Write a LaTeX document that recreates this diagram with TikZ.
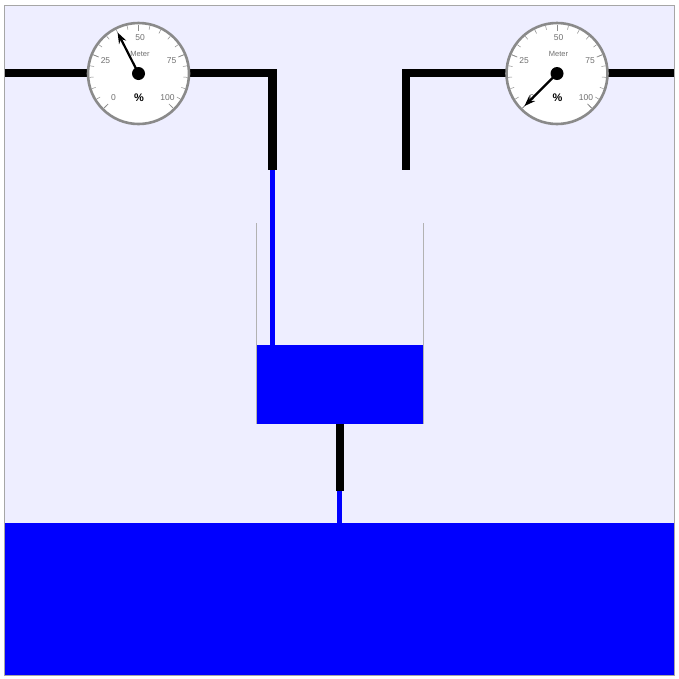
\documentclass[tikz,border=0pt]{standalone}
\usepackage{fontspec}
\setmainfont{Liberation Sans}
\usetikzlibrary{arrows.meta}

\definecolor{panel}{HTML}{EEEEFF}
\definecolor{water}{HTML}{0000FF}
\definecolor{rim}{HTML}{8A8A8A}
\definecolor{scaletext}{HTML}{707070}

\tikzset{
  pipe/.style={line width=8.5pt, black, line join=miter},
  stream/.style={line width=5.5pt, water},
  wall/.style={line width=1pt, black!30},
  dial/.style={circle, draw=rim, line width=2.6pt, fill=white, minimum size=101pt, inner sep=0pt},
  tick/.style={line width=0.5pt, black!45},
  needle/.style={line width=2.2pt, black, -{Stealth[length=11pt,width=8pt]}},
  hub/.style={circle, fill=black, minimum size=13pt, inner sep=0pt},
  scalelabel/.style={text=scaletext, font=\fontsize{8.5}{9}\selectfont, inner sep=0pt},
  % gauge with a 270 degree scale: 0 at 225 deg, 100 at -45 deg; #1 is the reading
  gauge/.pic={
    \node[dial] (-face) at (0,0) {};
    \foreach \v in {0,5,...,100}{
      \draw[tick] ({225-2.7*\v}:45pt) -- ({225-2.7*\v}:49pt);
    }
    \foreach \v in {0,25,...,100}{
      \draw[tick, line width=0.7pt] ({225-2.7*\v}:43pt) -- ({225-2.7*\v}:49pt);
    }
    \node[scalelabel] at (-25,24.5) {0};
    \node[scalelabel] at (-33,-13) {25};
    \node[scalelabel] at (1.5,-36) {50};
    \node[scalelabel] at (33,-13) {75};
    \node[scalelabel] at (29,24.5) {100};
    \node[text=scaletext, font=\fontsize{7.5}{8}\selectfont, inner sep=0pt] at (1.5,-19.5) {Meter};
    \node[font=\bfseries\fontsize{11}{12}\selectfont, inner sep=0pt] at (0.5,24) {\%};
    \coordinate (-tip) at ({225-2.7*#1}:46pt);
    \draw[needle] (0,0) -- (-tip);
    \node[hub] (-hub) at (0,0) {};
  }
}

\begin{document}
\begin{tikzpicture}[x=1pt,y=-1pt]
  \useasboundingbox (0,0) rectangle (679,678);
  \fill[white] (0,0) rectangle (679,678);

  % panel and the water basin at the bottom
  \filldraw[fill=panel, draw=black!35, line width=0.8pt] (4.5,5.5) rectangle (674,675);
  \fill[water] (4.5,523) rectangle (674,675);

  % supply pipes
  \coordinate (inL) at (4.5,73);
  \coordinate (bendL) at (272.5,73);
  \coordinate (outL) at (272.5,170);
  \coordinate (inR) at (674,73);
  \coordinate (bendR) at (406,73);
  \coordinate (outR) at (406,170);
  \draw[pipe] (inL) -- (bendL) -- (outL);
  \draw[pipe] (inR) -- (bendR) -- (outR);

  % tank with its water
  \coordinate (surface) at (272.5,345);
  \fill[water] (256,344.5) rectangle (423,423.5);
  \draw[wall] (256,223) -- (256,423.5);
  \draw[wall] (423,223) -- (423,423.5);

  % falling stream into the tank
  \draw[stream] (outL) -- (surface);

  % drain pipe and its stream into the basin
  \coordinate (drainTop) at (339.5,423.5);
  \coordinate (drainEnd) at (339.5,491);
  \coordinate (basin) at (339.5,523);
  \draw[pipe, line width=8pt] (drainTop) -- (drainEnd);
  \draw[stream, line width=5pt] (drainEnd) -- (basin);

  % gauges on the supply lines
  \pic (gaugeL) at (138.5,73.5) {gauge=40};
  \pic (gaugeR) at (557,73.5) {gauge=0};
\end{tikzpicture}
\end{document}
